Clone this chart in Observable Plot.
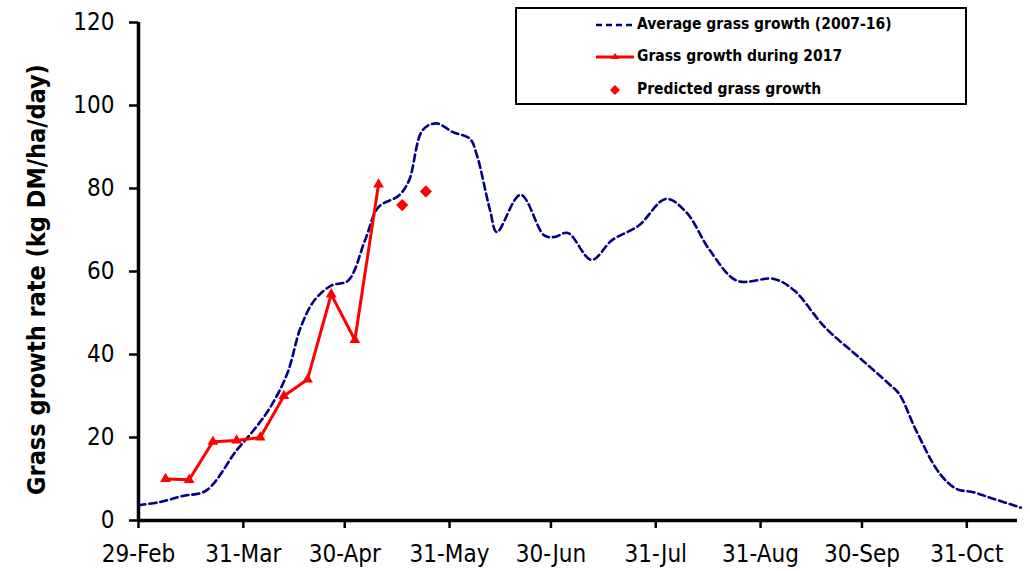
<!DOCTYPE html>
<html><head><meta charset="utf-8">
<script src="https://cdn.jsdelivr.net/npm/d3@7"></script>
<script src="https://cdn.jsdelivr.net/npm/@observablehq/plot@0.6"></script>
<style>
body{margin:0;background:#fff;}
#wrap{position:relative;width:1030px;height:571px;overflow:hidden;}
#legend{position:absolute;left:515px;top:7px;width:452px;height:98px;box-sizing:border-box;border:2.5px solid #000;background:#fff;}
.row{position:absolute;left:0;height:20px;}
.row svg{position:absolute;left:78px;top:0;}
.row span{position:absolute;left:120px;top:0;line-height:20px;white-space:nowrap;font:bold 15.5px Tahoma,'DejaVu Sans Condensed','DejaVu Sans',sans-serif;font-stretch:condensed;color:#000;}
</style></head><body><div id="wrap"></div>
<script>
const avgDates = ["2016-02-29","2016-03-06","2016-03-13","2016-03-20","2016-03-29","2016-04-03","2016-04-08","2016-04-13","2016-04-17","2016-04-21","2016-04-26","2016-05-01","2016-05-06","2016-05-10","2016-05-16","2016-05-19","2016-05-23","2016-05-27","2016-06-01","2016-06-06","2016-06-08","2016-06-12","2016-06-14","2016-06-21","2016-06-28","2016-07-01","2016-07-05","2016-07-12","2016-07-18","2016-07-26","2016-08-03","2016-08-09","2016-08-16","2016-08-24","2016-09-04","2016-09-10","2016-09-19","2016-09-29","2016-10-08","2016-10-11","2016-10-16","2016-10-23","2016-10-28","2016-11-02","2016-11-08","2016-11-16"];
const avgValues = [3.7,4.4,5.9,7.2,16.9,21.7,27.3,35.4,46.6,53,56.6,57.8,67.5,75.5,78.3,81.9,94,95.7,93.6,92,88.3,74.7,69.5,78.5,68.7,68.3,69.3,62.8,67.5,71.1,77.5,74.3,65.1,57.8,58.2,55.4,46.6,39.4,32.9,30.5,21.7,11.3,7.6,6.8,5.2,3.1];
const obsDates = ["2016-03-08","2016-03-15","2016-03-22","2016-03-29","2016-04-05","2016-04-12","2016-04-19","2016-04-26","2016-05-03","2016-05-10"];
const obsValues = [10,9.8,19,19.3,20,30,34,54.5,43.5,81];
const predDates = ["2016-05-17","2016-05-24"];
const predValues = [76,79.3];
const xTickDates = ["2016-02-29","2016-03-31","2016-04-30","2016-05-31","2016-06-30","2016-07-31","2016-08-31","2016-09-30","2016-10-31"];
const xTickLabels = ["29-Feb","31-Mar","30-Apr","31-May","30-Jun","31-Jul","31-Aug","30-Sep","31-Oct"];
const yTicks = [0,20,40,60,80,100,120];
const yLabel = "Grass growth rate (kg DM/ha/day)";
const seriesNames = ["Average grass growth (2007-16)","Grass growth during 2017","Predicted grass growth"];

const FONT = "Tahoma,'DejaVu Sans Condensed','DejaVu Sans',sans-serif";
const avg = avgDates.map((d,i)=>({date:new Date(d), v:avgValues[i]}));
const obs = obsDates.map((d,i)=>({date:new Date(d), v:obsValues[i]}));
const pred = predDates.map((d,i)=>({date:new Date(d), v:predValues[i]}));
const ticks = xTickDates.map(d=>new Date(d));
const labelMap = new Map(ticks.map((d,i)=>[+d, xTickLabels[i]]));
const x0 = new Date("2016-02-29"), x1 = new Date("2016-11-15");

const chart = Plot.plot({
  width:1030, height:571,
  marginLeft:138, marginRight:13, marginTop:22, marginBottom:51,
  style:{fontFamily:FONT, fontSize:"24px", color:"#000", background:"#fff", fontStretch:"condensed"},
  x:{type:"utc", domain:[x0,x1]},
  y:{domain:[0,120]},
  marks:[
    Plot.axisY({ticks:yTicks, tickSize:9, tickPadding:15, label:null, strokeWidth:2.5, fontSize:24}),
    Plot.axisX({ticks:ticks, tickFormat:d=>labelMap.get(+d), tickSize:8, tickPadding:16, label:null, strokeWidth:2.5, fontSize:24}),
    Plot.ruleX([x0], {strokeWidth:3.5, stroke:"#000"}),
    Plot.ruleY([0], {strokeWidth:3.5, stroke:"#000"}),
    Plot.line(avg, {x:"date", y:"v", curve:"catmull-rom", stroke:"#000080", strokeWidth:2.6, strokeDasharray:"7,4"}),
    Plot.line(obs, {x:"date", y:"v", stroke:"#ff0000", strokeWidth:3}),
    Plot.dot(obs, {x:"date", y:"v", symbol:"triangle", r:4, fill:"#ff0000"}),
    Plot.dot(pred, {x:"date", y:"v", symbol:"diamond2", r:5.5, fill:"#ff0000", stroke:"none"}),
    Plot.text([yLabel], {frameAnchor:"left", textAnchor:"middle", dx:-102, dy:8, rotate:-90, text:d=>d, fontWeight:"bold", fontSize:25, fill:"#000"})
  ]
});
document.getElementById("wrap").appendChild(chart);

const lg = document.createElement("div");
lg.id = "legend";
const rowTops = [6, 38, 71];
const swatches = [
  `<svg width="40" height="20"><line x1="1" x2="39" y1="10" y2="10" stroke="#000080" stroke-width="2.6" stroke-dasharray="6,4"/></svg>`,
  `<svg width="40" height="20"><line x1="1" x2="39" y1="10" y2="10" stroke="#ff0000" stroke-width="3"/><path d="M20,6 L24,12 L16,12Z" fill="#ff0000"/></svg>`,
  `<svg width="40" height="20"><path d="M20,5 L25,10 L20,15 L15,10Z" fill="#ff0000"/></svg>`
];
seriesNames.forEach((n,i)=>{
  const r = document.createElement("div");
  r.className = "row";
  r.style.top = rowTops[i] + "px";
  r.innerHTML = swatches[i] + `<span>${n}</span>`;
  lg.appendChild(r);
});
document.getElementById("wrap").appendChild(lg);
</script></body></html>
